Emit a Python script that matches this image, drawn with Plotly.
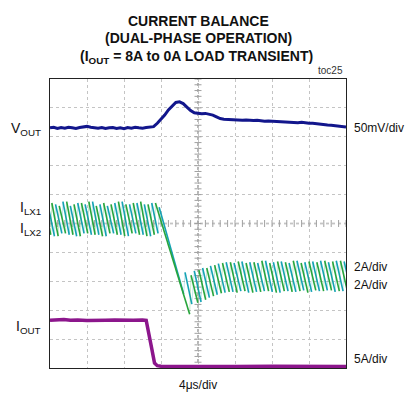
import plotly.graph_objects as go

# ---------------- data ----------------
# time base: 4 us/div, 8 divisions -> 0..32 us
# VOUT deviation (mV), 50 mV/div
vout_t = [0.0, 0.4, 0.8, 1.2, 1.6, 2.0, 2.4, 2.8, 3.2, 3.6, 4.0, 4.4, 4.8, 5.2, 5.6, 6.0, 6.4, 6.8,
          7.2, 7.6, 8.0, 8.4, 8.8, 9.2, 9.6, 10.0, 10.4, 10.8, 11.2, 11.6, 12.0, 12.4, 12.8, 13.2,
          13.6, 14.0, 14.4, 14.8, 15.2, 15.6, 16.0, 16.4, 16.8, 17.2, 17.6, 18.0, 18.4, 18.8, 19.2,
          19.6, 20.0, 20.4, 20.8, 21.2, 21.6, 22.0, 22.4, 22.8, 23.2, 23.6, 24.0, 24.4, 24.8, 25.2,
          25.6, 26.0, 26.4, 26.8, 27.2, 27.6, 28.0, 28.4, 28.8, 29.2, 29.6, 30.0, 30.4, 30.8, 31.2,
          31.6, 32.0]
vout_mv = [0.0, 1.0, -1.0, 0.5, -0.5, 1.0, 0.0, -1.0, 0.5, 1.5, 2.5, 1.0, 0.0, -0.5, 0.5, -1.0, 0.0, 0.5,
           -1.0, 0.0, -1.5, 0.5, -0.5, 1.0, 0.0, -0.5, 0.5, 1.0, 2.0, 8.0, 15.0, 22.0, 31.0, 38.0,
           44.0, 45.0, 42.0, 36.0, 30.0, 26.0, 25.0, 24.5, 25.0, 23.5, 22.0, 19.0, 16.0, 15.0, 14.5,
           15.0, 13.5, 14.0, 13.0, 13.5, 12.5, 12.5, 13.0, 12.0, 11.5, 12.0, 11.5, 11.0, 11.5, 10.5,
           10.0, 10.0, 9.5, 9.0, 9.5, 8.5, 8.0, 8.0, 7.0, 6.5, 6.0, 5.0, 4.5, 4.0, 3.0,
           2.0, 1.5]

# IOUT (A), 5 A/div
iout_t = [0.0, 0.8, 1.5, 2.2, 3.0, 4.0, 5.0, 6.0, 7.0, 8.0, 9.0, 10.0, 10.4, 11.0, 11.3, 11.6, 12.0,
          14.0, 16.0, 20.0, 24.0, 28.0, 32.0]
iout_a = [8.0, 8.05, 8.15, 8.0, 8.05, 7.95, 8.05, 8.0, 8.05, 7.95, 8.0, 8.05, 8.0, 3.1, 0.6, 0.15, 0.05,
          0.0, 0.05, 0.0, 0.05, 0.0, 0.0]

# ILX1 (cyan) inductor current (A), 2 A/div : peak / valley vertices of the ripple
ilx1_peak_t = [-0.2, 0.6, 1.4, 2.2, 3.0, 3.8, 4.6, 5.4, 6.2, 7.0, 7.8, 8.6, 9.4, 10.2, 11.0, 11.8,
               14.6, 15.6, 16.5, 17.35, 18.2, 19.05, 19.9, 20.75, 21.6, 22.45, 23.3, 24.15, 25.0,
               25.85, 26.7, 27.55, 28.4, 29.25, 30.1, 30.95, 31.8]
ilx1_peak_a = [4.9, 5.0, 5.2, 4.9, 5.1, 5.0, 5.2, 5.0, 4.9, 5.1, 5.2, 5.0, 5.1, 5.0, 5.1, 4.8,
               0.3, 0.4, 0.6, 0.75, 0.9, 1.0, 0.95, 1.05, 1.0, 0.95, 1.1, 1.0, 1.05,
               0.95, 1.1, 1.0, 1.05, 1.1, 1.0, 1.1, 1.05]
ilx1_valley_t = [0.48, 1.28, 2.08, 2.88, 3.68, 4.48, 5.28, 6.08, 6.88, 7.68, 8.48, 9.28, 10.08, 10.88, 11.68,
                 14.45, 15.33, 16.33, 17.23, 18.08, 18.93, 19.78, 20.63, 21.48, 22.33, 23.18, 24.03,
                 24.88, 25.73, 26.58, 27.43, 28.28, 29.13, 29.98, 30.83, 31.68, 32.53]
ilx1_valley_a = [2.8, 3.0, 2.9, 2.8, 3.0, 2.9, 2.9, 2.8, 3.0, 2.9, 2.8, 3.0, 2.9, 2.8, 3.0,
                 -1.2, -1.9, -1.75, -1.45, -1.25, -1.1, -1.05, -1.0, -1.1, -1.05, -1.0, -1.05,
                 -1.1, -1.0, -1.05, -0.95, -1.05, -1.0, -0.95, -1.05, -1.0, -0.95]

# ILX2 (green) inductor current (A), 2 A/div
ilx2_peak_t = [-0.6, 0.2, 1.0, 1.8, 2.6, 3.4, 4.2, 5.0, 5.8, 6.6, 7.4, 8.2, 9.0, 9.8, 10.6, 11.4,
               15.25, 16.1, 16.95, 17.8, 18.65, 19.5, 20.35, 21.2, 22.05, 22.9, 23.75, 24.6, 25.45,
               26.3, 27.15, 28.0, 28.85, 29.7, 30.55, 31.4]
ilx2_peak_a = [5.0, 5.1, 4.9, 5.2, 5.0, 5.1, 5.2, 4.9, 5.1, 5.0, 5.2, 5.0, 5.1, 5.2, 5.0, 5.1,
               0.1, 0.45, 0.6, 0.8, 0.95, 1.0, 1.05, 0.95, 1.0, 1.1, 0.95, 1.05, 1.0,
               1.1, 0.95, 1.05, 1.0, 1.1, 1.05, 1.1]
ilx2_valley_t = [0.08, 0.88, 1.68, 2.48, 3.28, 4.08, 4.88, 5.68, 6.48, 7.28, 8.08, 8.88, 9.68, 10.48, 11.28,
                 15.1, 15.98, 16.83, 17.68, 18.53, 19.38, 20.23, 21.08, 21.93, 22.78, 23.63, 24.48,
                 25.33, 26.18, 27.03, 27.88, 28.73, 29.58, 30.43, 31.28, 32.13]
ilx2_valley_a = [2.9, 2.8, 3.0, 2.9, 2.8, 3.0, 2.9, 2.8, 3.0, 2.9, 2.8, 3.0, 2.9, 2.8, 2.9,
                 -2.6, -1.8, -1.6, -1.35, -1.15, -1.05, -1.1, -1.0, -1.1, -1.05, -1.0, -1.1,
                 -1.0, -1.05, -1.0, -1.1, -0.95, -1.0, -0.95, -1.0, -0.95]

# channel scale (units/div) and screen offset (div)
VOUT_SCALE, VOUT_POS = 50.0, 8.31
IL_SCALE, IL_POS = 2.0, 3.16
IOUT_SCALE, IOUT_POS = 5.0, 0.05

# ---------------- figure ----------------
W, H = 416, 402
ML, MR, MT, MB = 50, 70, 79, 34
PW, PH = W - ML - MR, H - MT - MB
FONT = "Liberation Sans, Arial, Helvetica, sans-serif"

NAVY = "rgb(18,22,140)"
PURPLE = "rgb(140,22,140)"
CYAN = "rgb(20,162,180)"
GREEN = "rgb(40,165,60)"


def px(x, y):
    return (x - ML) / PW, (H - MB - y) / PH


fig = go.Figure()

# center graticule tick marks
fig.add_trace(go.Scatter(x=[16] * 51, y=[i * 0.2 for i in range(51)], mode="markers",
                         marker=dict(symbol="line-ew", size=5, line=dict(color="#a0a0a0", width=1)),
                         hoverinfo="skip", showlegend=False))
fig.add_trace(go.Scatter(x=[i * 0.8 for i in range(41)], y=[5] * 41, mode="markers",
                         marker=dict(symbol="line-ns", size=5, line=dict(color="#a0a0a0", width=1)),
                         hoverinfo="skip", showlegend=False))


def ripple(peak_t, peak_a, valley_t, valley_a, color):
    fx, fy, rx, ry = [], [], [], []
    n = len(peak_t)
    for i in range(n):
        p = (peak_t[i], IL_POS + peak_a[i] / IL_SCALE)
        v = (valley_t[i], IL_POS + valley_a[i] / IL_SCALE)
        fx += [p[0], v[0], None]
        fy += [p[1], v[1], None]
        if i + 1 < n:
            q = (peak_t[i + 1], IL_POS + peak_a[i + 1] / IL_SCALE)
            rx += [v[0], q[0], None]
            ry += [v[1], q[1], None]
    fig.add_trace(go.Scatter(x=rx, y=ry, mode="lines", line=dict(color=color, width=1),
                             opacity=0.25, hoverinfo="skip", showlegend=False))
    fig.add_trace(go.Scatter(x=fx, y=fy, mode="lines", line=dict(color=color, width=1.6),
                             hoverinfo="skip", showlegend=False))


ripple(ilx1_peak_t, ilx1_peak_a, ilx1_valley_t, ilx1_valley_a, CYAN)
ripple(ilx2_peak_t, ilx2_peak_a, ilx2_valley_t, ilx2_valley_a, GREEN)

fig.add_trace(go.Scatter(x=vout_t, y=[VOUT_POS + v / VOUT_SCALE for v in vout_mv], mode="lines",
                         line=dict(color=NAVY, width=3), hoverinfo="skip", showlegend=False))
fig.add_trace(go.Scatter(x=iout_t, y=[IOUT_POS + a / IOUT_SCALE for a in iout_a], mode="lines",
                         line=dict(color=PURPLE, width=3.5), hoverinfo="skip", showlegend=False))

# center lines
fig.add_shape(type="line", x0=16, x1=16, y0=0, y1=10, line=dict(color="#a0a0a0", width=1.5, dash="dot"),
              layer="below")
fig.add_shape(type="line", x0=0, x1=32, y0=5, y1=5, line=dict(color="#a0a0a0", width=1.5, dash="dot"),
              layer="below")

ann = []


def text(t, x, y, size=12, xa="center", ya="middle", color="#111"):
    ax, ay = px(x, y)
    ann.append(dict(text=t, x=ax, y=ay, xref="paper", yref="paper", xanchor=xa, yanchor=ya,
                    showarrow=False, font=dict(family=FONT, size=size, color=color)))


text("<b>CURRENT BALANCE</b>", 198, 21, 14)
text("<b>(DUAL-PHASE OPERATION)</b>", 198, 38, 14)
text("<b>(I<sub>OUT</sub> = 8A to 0A LOAD TRANSIENT)</b>", 196, 57, 14)
text("toc25", 345, 78, 10, xa="right", ya="bottom", color="#333")

text("V<sub>OUT</sub>", 43, 129, 14, xa="right")
text("I<sub>LX1</sub>", 43, 208, 14, xa="right")
text("I<sub>LX2</sub>", 43, 229, 14, xa="right")
text("I<sub>OUT</sub>", 43, 327, 14, xa="right")

text("50mV/div", 352, 128, 12, xa="left")
text("2A/div", 352, 267, 12, xa="left")
text("2A/div", 352, 285, 12, xa="left")
text("5A/div", 352, 359, 12, xa="left")
text("4\u03bcs/div", 198, 385, 12)

axis_common = dict(showticklabels=False, ticks="", zeroline=False, showline=True, mirror=True,
                   linecolor="#222", linewidth=1, showgrid=True, gridcolor="#c4c4c4",
                   griddash="dot", gridwidth=1, fixedrange=True)

fig.update_layout(
    width=W, height=H, autosize=False,
    margin=dict(l=ML, r=MR, t=MT, b=MB, pad=0),
    paper_bgcolor="white", plot_bgcolor="white",
    xaxis=dict(range=[0, 32], dtick=4, tick0=0, **axis_common),
    yaxis=dict(range=[0, 10], dtick=1, tick0=0, **axis_common),
    annotations=ann,
    showlegend=False,
    font=dict(family=FONT),
)

fig.write_html("out.html", config={"displayModeBar": False},
               post_script="document.body.style.margin='0';document.body.style.padding='0';")
